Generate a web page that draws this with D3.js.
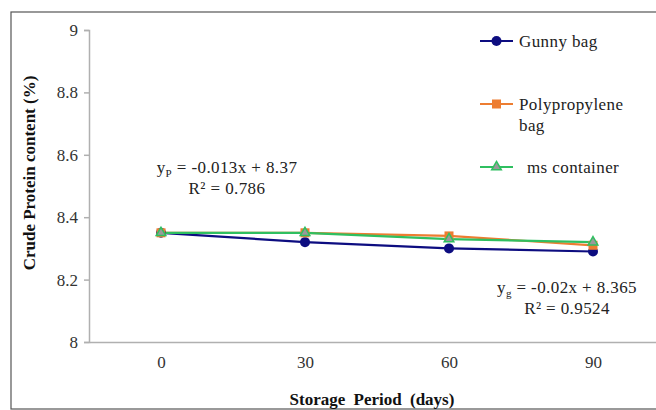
<!DOCTYPE html>
<html><head><meta charset="utf-8">
<script src="https://cdn.jsdelivr.net/npm/d3@7"></script>
<style>body{margin:0;background:#fff}svg{display:block}</style>
</head><body>
<svg id="c" width="656" height="410"></svg>
<script>
const categories = ["0", "30", "60", "90"];
const gunny = [8.35, 8.32, 8.30, 8.29];
const polypropylene = [8.35, 8.35, 8.34, 8.31];
const msContainer = [8.35, 8.35, 8.33, 8.32];
const yTicks = [8, 8.2, 8.4, 8.6, 8.8, 9];
const seriesNames = ["Gunny bag", "Polypropylene bag", "ms container"];

const FF = '"Liberation Serif"';
const svg = d3.select("#c");
const x = d3.scalePoint().domain(categories).range([89, 665]).padding(0.5);
const y = d3.scaleLinear().domain([8, 9]).range([342, 30]);

// border
svg.append("rect").attr("x", 11).attr("y", 12).attr("width", 700).attr("height", 397)
  .attr("fill", "none").attr("stroke", "#555").attr("stroke-width", 1.2);

// y axis
const ya = svg.append("g").attr("transform", "translate(89,0)")
  .call(d3.axisLeft(y).tickValues(yTicks).tickSize(5).tickPadding(6)
    .tickFormat(d => d3.format("")(+d.toFixed(1))));
ya.select(".domain").attr("stroke", "#b0b0b0").attr("stroke-width", 1.5);
ya.selectAll(".tick line").attr("stroke", "#b0b0b0").attr("stroke-width", 1.5);
ya.selectAll("text").style("font-family", FF).style("font-size", "17px").attr("fill", "#333");

// x axis
const xa = svg.append("g").attr("transform", "translate(0,342)")
  .call(d3.axisBottom(x).tickSize(0).tickPadding(14));
xa.select(".domain").attr("stroke", "#b0b0b0").attr("stroke-width", 1.5);
xa.selectAll("text").style("font-family", FF).style("font-size", "17px").attr("fill", "#333");

// titles
svg.append("text").attr("transform", "translate(35,173) rotate(-90)")
  .attr("text-anchor", "middle").style("font-family", FF).attr("font-weight", "bold")
  .style("font-size", "17px").attr("fill", "#111").text("Crude Protein content (%)");
svg.append("text").attr("x", 372).attr("y", 405)
  .attr("text-anchor", "middle").style("font-family", FF).attr("font-weight", "bold")
  .style("font-size", "17px").attr("fill", "#111").attr("word-spacing", 4).text("Storage Period (days)");

const colors = ["#0d0d80", "#ed7d31", "#2fbf60"];
const data = [gunny, polypropylene, msContainer];
const line = d3.line().x((d, i) => x(categories[i])).y(d => y(d));

data.forEach((vals, s) => {
  svg.append("path").datum(vals).attr("d", line).attr("fill", "none")
    .attr("stroke", colors[s]).attr("stroke-width", 2.2);
});
function marker(g, s, cx, cy) {
  if (s === 0) g.append("circle").attr("cx", cx).attr("cy", cy).attr("r", 5).attr("fill", colors[0]);
  else if (s === 1) g.append("rect").attr("x", cx - 4.5).attr("y", cy - 4.5).attr("width", 9).attr("height", 9).attr("fill", colors[1]);
  else g.append("path").attr("d", d3.symbol(d3.symbolTriangle, 40)()).attr("transform", `translate(${cx},${cy})`)
    .attr("fill", "#9a9a9a").attr("stroke", colors[2]).attr("stroke-width", 1.5);
}
data.forEach((vals, s) => {
  vals.forEach((v, i) => marker(svg, s, x(categories[i]), y(v)));
});

// legend
const leg = [{y: 41, lines: ["Gunny bag"], tx: 519}, {y: 104, lines: ["Polypropylene", "bag"], tx: 519}, {y: 167, lines: ["ms container"], tx: 527}];
leg.forEach((l, s) => {
  svg.append("line").attr("x1", 480).attr("x2", 513).attr("y1", l.y).attr("y2", l.y)
    .attr("stroke", colors[s]).attr("stroke-width", 2.2);
  marker(svg, s, 496.5, l.y);
  l.lines.forEach((t, k) => {
    svg.append("text").attr("x", l.tx).attr("y", l.y + 6 + k * 21).style("font-family", FF)
      .style("font-size", "17px").attr("fill", "#222").attr("letter-spacing", 0.4).text(t);
  });
});

// equations
function eq(cx, y1, sub, rest, r2) {
  const t = svg.append("text").attr("x", cx).attr("y", y1).attr("text-anchor", "middle")
    .style("font-family", FF).style("font-size", "17px").attr("fill", "#222").attr("letter-spacing", 0.4);
  t.append("tspan").text("y");
  t.append("tspan").attr("dy", 4).style("font-size", "11px").text(sub);
  t.append("tspan").attr("dy", -4).text(rest);
  svg.append("text").attr("x", cx).attr("y", y1 + 21).attr("text-anchor", "middle")
    .style("font-family", FF).style("font-size", "17px").attr("fill", "#222").attr("letter-spacing", 0.4).text(r2);
}
eq(227, 173, "P", " = -0.013x + 8.37", "R² = 0.786");
eq(567, 293, "g", " = -0.02x + 8.365", "R² = 0.9524");
</script>
</body></html>
